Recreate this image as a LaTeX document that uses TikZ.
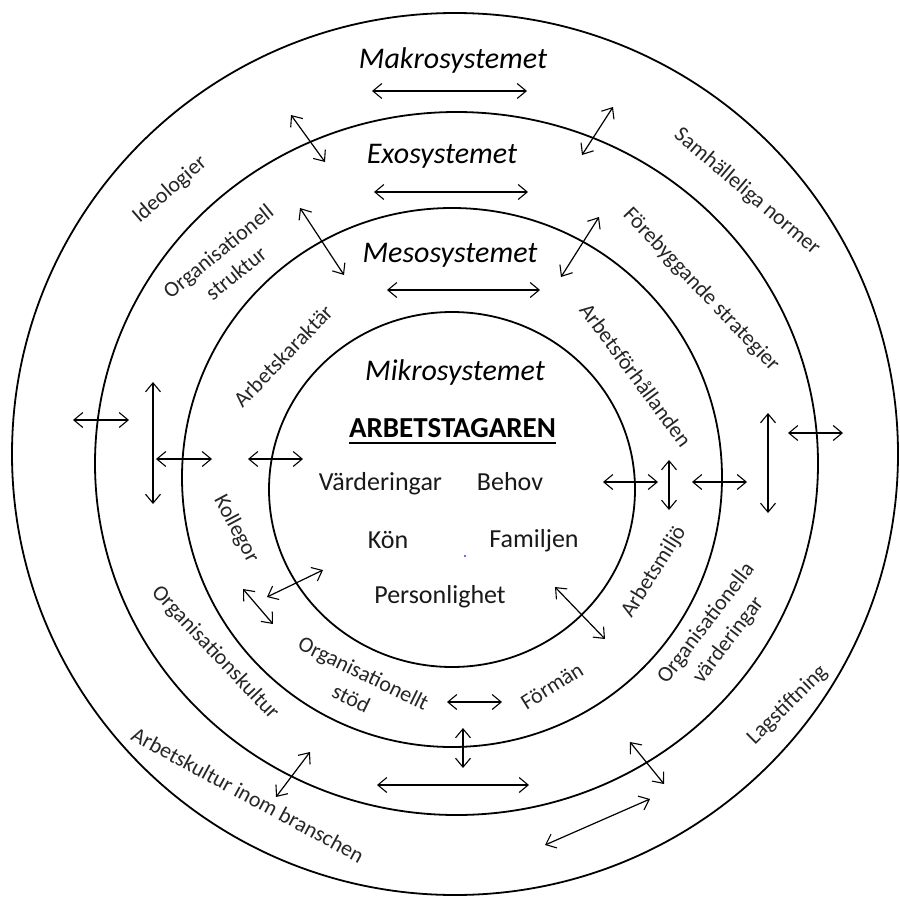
\documentclass[tikz,border=0pt]{standalone}
\usepackage{fontspec}
\setmainfont{Carlito}
\usetikzlibrary{arrows.meta}
\begin{document}
\begin{tikzpicture}[x=1pt,y=-1pt,
  ring/.style={line width=1.8pt},
  barb/.tip={Straight Barb[length=9pt,width=15pt,line width=1.1pt]},
  dbl/.style={line width=1.2pt,barb-barb},
  sys/.style={font=\fontsize{30}{34}\selectfont\itshape, inner sep=0pt, anchor=base},
  inner/.style={font=\fontsize{26}{30}\selectfont, inner sep=0pt, anchor=base, text=black!90},
  lbl/.style={font=\fontsize{22}{28}\selectfont, align=center, inner sep=0pt, text=black!85},
]
\useasboundingbox (0,0) rectangle (900,897);
\fill[white] (0,0) rectangle (900,897);

% rings
\draw[ring] (455,454) ellipse [x radius=443, y radius=441];
\draw[ring] (456.5,463.5) ellipse [x radius=361.5, y radius=351.5];
\draw[ring] (452,477.5) ellipse [x radius=270, y radius=269.5];
\draw[ring] (452,489.5) ellipse [x radius=183, y radius=177.5];

% system titles
\node[sys] (makro) at (453,68) {Makrosystemet};
\node[sys] (exo) at (442,163) {Exosystemet};
\node[sys] (meso) at (450,262) {Mesosystemet};
\node[sys] (mikro) at (455,380) {Mikrosystemet};

% centre
\node[font=\fontsize{29}{32}\selectfont\bfseries, inner sep=0pt, anchor=base] (arb) at (452.5,437) {ARBETSTAGAREN};
\draw[line width=1.8pt] ([yshift=-6pt]arb.base west) -- ([yshift=-6pt]arb.base east);
\node[inner] (vard) at (380.5,490) {Värderingar};
\node[inner] (behov) at (510,490) {Behov};
\node[inner] (kon) at (388,548) {Kön};
\node[inner] (fam) at (534,547) {Familjen};
\node[inner] (pers) at (440,603) {Personlighet};
\node[circle, fill=blue!80, inner sep=0pt, minimum size=2.4pt] (dot) at (465,556) {};

% ring labels
\node[lbl, rotate=41] (ideo) at (170,190) {Ideologier};
\node[lbl, rotate=39] (ostr) at (227,262) {Organisationell\\struktur};
\node[lbl, rotate=46] (akar) at (283,356) {Arbetskaraktär};
\node[lbl, rotate=-40.3] (samh) at (747,192) {Samhälleliga normer};
\node[lbl, rotate=-46.4] (foreb) at (701,290) {Förebyggande strategier};
\node[lbl, rotate=-53.6] (afor) at (636,375) {Arbetsförhållanden};
\node[lbl, rotate=-62] (koll) at (236,529) {Kollegor};
\node[lbl, rotate=-46.7] (okult) at (215,653) {Organisationskultur};
\node[lbl, rotate=-26] (ostod) at (357.5,685.5) {Organisationellt\\stöd};
\node[lbl, rotate=32] (forman) at (552,686) {Förmän};
\node[lbl, rotate=58] (amiljo) at (654,572) {Arbetsmiljö};
\node[lbl, rotate=52.6] (ovard) at (717.5,632) {Organisationella\\värderingar};
\node[lbl, rotate=44.6] (lag) at (787.5,705) {Lagstiftning};
\node[lbl, rotate=-28.4] (abran) at (248,795) {Arbetskultur inom branschen};

% double-headed arrows
\foreach \n/\xa/\ya/\xb/\yb in {
  a1/372/91/527/91, a2/374/192/528/192, a3/387/290/540/290,
  a4/291/115/325/162, a5/613/107/582/155, a6/300/208/344/275, a7/599/217/561/277,
  a8/73/420/129/420, a9/153/382/153/504, a10/156/459/212/459, a11/248/459/303/459,
  a12/603/482/658/482, a13/669/460/669/510, a14/692/482/747/482,
  a15/768/413/768/513, a16/788/433/843/433,
  a17/267/597/323/570, a18/243/589/273/624, a19/310/752/276/797,
  a20/377/785/529/785, a21/447/702/502/702, a22/463/728/463/768,
  a23/555/587/605/639, a24/630/742/664/784, a25/650/799/545/845} {
  \coordinate (\n s) at (\xa,\ya);
  \coordinate (\n e) at (\xb,\yb);
  \draw[dbl] (\n s) -- (\n e);
}
\end{tikzpicture}
\end{document}
